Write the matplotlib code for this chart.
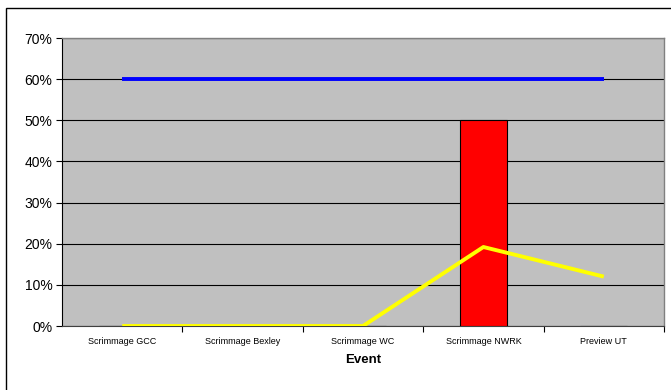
import matplotlib
matplotlib.use("Agg")
import matplotlib.pyplot as plt
from matplotlib.patches import Rectangle
from matplotlib.ticker import FixedLocator, NullFormatter

plt.rcParams['font.family'] = ['Liberation Sans', 'DejaVu Sans']

categories = ["Scrimmage GCC", "Scrimmage Bexley", "Scrimmage WC", "Scrimmage NWRK", "Preview UT"]
bar_values = [0, 0, 0, 50, 0]
target_values = [60, 60, 60, 60, 60]
yellow_values = [0, 0, 0, 19.2, 12.0]
y_ticks = [0, 10, 20, 30, 40, 50, 60, 70]

W, H = 671, 390
fig = plt.figure(figsize=(W / 100, H / 100), dpi=100)
fig.patch.set_facecolor("white")

# outer frame
fig.add_artist(Rectangle((6 / W, -0.1), 1.2, (1 - 8 / H) + 0.1, transform=fig.transFigure,
                         fill=False, edgecolor="black", linewidth=1.0))

left, right, top, bottom = 62, 664, 38, 326
ax = fig.add_axes([left / W, 1 - bottom / H, (right - left) / W, (bottom - top) / H])
ax.set_facecolor("#C0C0C0")

x = list(range(len(categories)))
ax.bar(x, bar_values, width=0.39, color="#FF0000", edgecolor="black", linewidth=0.8, zorder=3)
ax.plot(x, target_values, color="#0000FF", linewidth=2.8, zorder=4, solid_capstyle="butt")
ax.plot(x, yellow_values, color="#FFFF00", linewidth=2.8, zorder=4, solid_capstyle="butt")

ax.set_xlim(-0.5, len(categories) - 0.5)
ax.set_ylim(0, 70)
ax.set_yticks(y_ticks)
ax.set_yticklabels([f"{v}%" for v in y_ticks], fontsize=10)
ax.yaxis.grid(True, color="black", linewidth=0.8, zorder=1)
ax.set_axisbelow(True)

ax.set_xticks(x)
ax.set_xticklabels(categories, fontsize=6.5)
ax.tick_params(axis="x", which="major", length=0, pad=8)
ax.xaxis.set_minor_locator(FixedLocator([i + 0.5 for i in range(len(categories))]))
ax.xaxis.set_minor_formatter(NullFormatter())
ax.tick_params(axis="x", which="minor", length=4, width=0.8, color="black")
ax.tick_params(axis="y", length=4, width=0.8, pad=3)
ax.set_xlabel("Event", fontsize=9.5, fontweight="bold", labelpad=6)

for s in ["top", "right"]:
    ax.spines[s].set_color("#808080")
    ax.spines[s].set_linewidth(1.0)
for s in ["left", "bottom"]:
    ax.spines[s].set_color("black")
    ax.spines[s].set_linewidth(0.8)
ax.spines["bottom"].set_color("#404040")

fig.savefig("out.png", dpi=100)
